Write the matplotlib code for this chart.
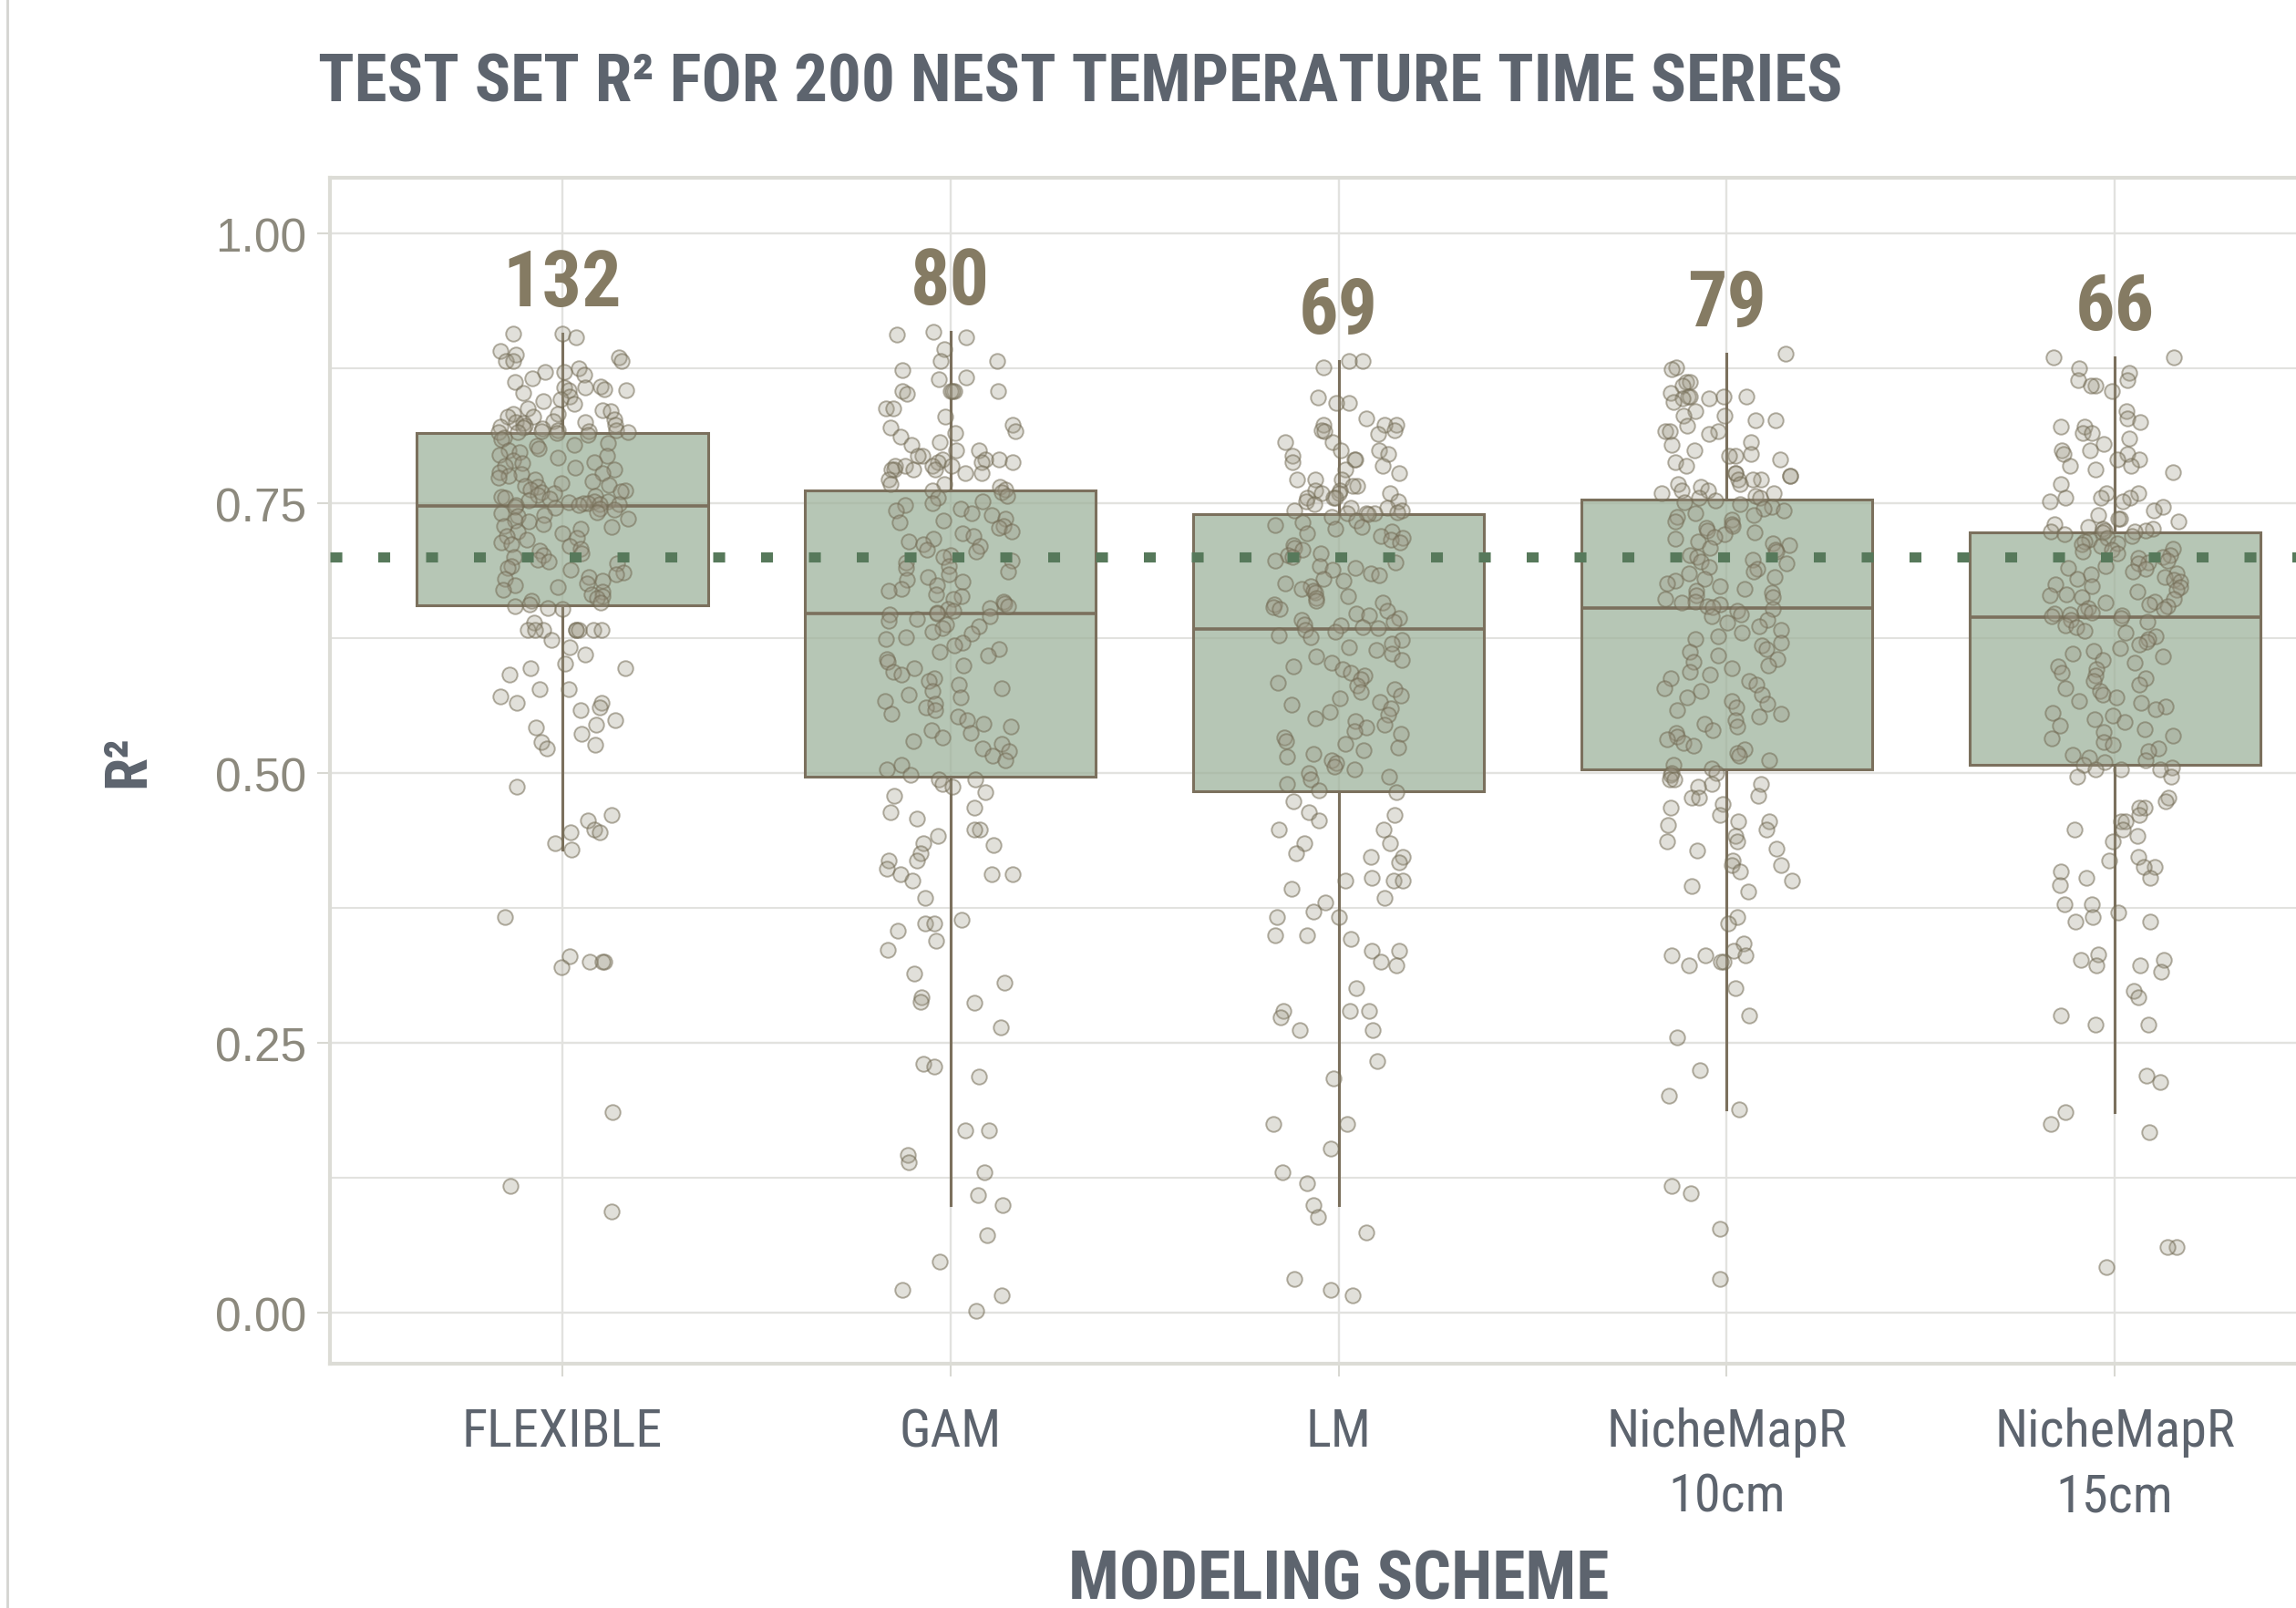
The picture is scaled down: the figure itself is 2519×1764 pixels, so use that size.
import numpy as np
import matplotlib
matplotlib.use("Agg")
import matplotlib.pyplot as plt
from matplotlib import font_manager
from matplotlib.lines import Line2D

# ---- data ----
schemes = ["FLEXIBLE", "GAM", "LM", "NicheMapR\n10cm", "NicheMapR\n15cm"]
n_best = [132, 80, 69, 79, 66]
threshold = 0.70

flexible = [
    0.907, 0.907, 0.904, 0.891, 0.888, 0.885, 0.882, 0.882, 0.882, 0.875,
    0.872, 0.872, 0.869, 0.866, 0.862, 0.858, 0.857, 0.857, 0.856, 0.855,
    0.855, 0.852, 0.849, 0.846, 0.845, 0.842, 0.838, 0.836, 0.835, 0.833,
    0.833, 0.830, 0.830, 0.828, 0.826, 0.825, 0.825, 0.824, 0.823, 0.822,
    0.821, 0.820, 0.819, 0.818, 0.818, 0.817, 0.817, 0.816, 0.816, 0.816,
    0.815, 0.813, 0.811, 0.809, 0.806, 0.804, 0.803, 0.801, 0.799, 0.797,
    0.795, 0.794, 0.792, 0.790, 0.788, 0.787, 0.785, 0.783, 0.781, 0.779,
    0.778, 0.777, 0.775, 0.774, 0.772, 0.770, 0.769, 0.767, 0.766, 0.765,
    0.763, 0.762, 0.761, 0.760, 0.759, 0.758, 0.757, 0.756, 0.755, 0.754,
    0.753, 0.752, 0.752, 0.751, 0.750, 0.750, 0.749, 0.749, 0.748, 0.748,
    0.747, 0.746, 0.745, 0.744, 0.742, 0.741, 0.739, 0.738, 0.736, 0.734,
    0.733, 0.731, 0.729, 0.728, 0.726, 0.724, 0.722, 0.720, 0.718, 0.716,
    0.714, 0.712, 0.710, 0.708, 0.706, 0.704, 0.702, 0.700, 0.698, 0.696,
    0.694, 0.692, 0.690, 0.688, 0.686, 0.684, 0.682, 0.680, 0.678, 0.676,
    0.674, 0.672, 0.670, 0.668, 0.666, 0.664, 0.662, 0.660, 0.658, 0.656,
    0.655, 0.653, 0.652, 0.639, 0.633, 0.633, 0.633, 0.633, 0.633, 0.633,
    0.633, 0.633, 0.623, 0.617, 0.610, 0.601, 0.597, 0.597, 0.591, 0.578,
    0.578, 0.571, 0.565, 0.565, 0.561, 0.558, 0.549, 0.545, 0.542, 0.536,
    0.529, 0.526, 0.523, 0.487, 0.461, 0.456, 0.448, 0.445, 0.445, 0.435,
    0.429, 0.367, 0.330, 0.325, 0.325, 0.325, 0.320, 0.186, 0.117, 0.094,
]

gam = [
    0.909, 0.906, 0.904, 0.893, 0.882, 0.882, 0.873, 0.867, 0.865, 0.854,
    0.854, 0.854, 0.854, 0.854, 0.851, 0.838, 0.838, 0.830, 0.823, 0.820,
    0.817, 0.815, 0.812, 0.807, 0.804, 0.799, 0.799, 0.794, 0.794, 0.791,
    0.791, 0.791, 0.788, 0.788, 0.788, 0.785, 0.785, 0.785, 0.785, 0.781,
    0.781, 0.781, 0.781, 0.778, 0.778, 0.772, 0.768, 0.768, 0.765, 0.763,
    0.762, 0.760, 0.757, 0.755, 0.752, 0.750, 0.748, 0.745, 0.743, 0.741,
    0.739, 0.736, 0.734, 0.732, 0.729, 0.727, 0.724, 0.722, 0.720, 0.717,
    0.715, 0.712, 0.710, 0.707, 0.705, 0.702, 0.700, 0.697, 0.695, 0.692,
    0.690, 0.687, 0.684, 0.682, 0.679, 0.677, 0.674, 0.671, 0.669, 0.666,
    0.664, 0.661, 0.659, 0.657, 0.655, 0.653, 0.652, 0.650, 0.649, 0.648,
    0.647, 0.645, 0.643, 0.641, 0.638, 0.636, 0.634, 0.631, 0.629, 0.626,
    0.624, 0.621, 0.618, 0.615, 0.612, 0.609, 0.606, 0.603, 0.600, 0.597,
    0.594, 0.591, 0.588, 0.585, 0.582, 0.579, 0.576, 0.573, 0.570, 0.567,
    0.564, 0.561, 0.558, 0.555, 0.552, 0.549, 0.546, 0.543, 0.540, 0.537,
    0.533, 0.530, 0.527, 0.523, 0.520, 0.516, 0.512, 0.508, 0.503, 0.498,
    0.494, 0.494, 0.490, 0.487, 0.482, 0.479, 0.468, 0.464, 0.458, 0.448,
    0.448, 0.442, 0.435, 0.433, 0.426, 0.419, 0.419, 0.411, 0.406, 0.406,
    0.406, 0.400, 0.384, 0.364, 0.361, 0.361, 0.354, 0.345, 0.336, 0.314,
    0.306, 0.292, 0.288, 0.287, 0.264, 0.231, 0.228, 0.219, 0.169, 0.169,
    0.146, 0.139, 0.130, 0.109, 0.100, 0.072, 0.047, 0.021, 0.016, 0.002,
]

lm = [
    0.882, 0.882, 0.876, 0.848, 0.843, 0.843, 0.829, 0.823, 0.823, 0.823,
    0.818, 0.818, 0.817, 0.814, 0.807, 0.807, 0.799, 0.799, 0.796, 0.794,
    0.791, 0.791, 0.788, 0.785, 0.781, 0.778, 0.772, 0.772, 0.772, 0.766,
    0.766, 0.762, 0.762, 0.759, 0.759, 0.759, 0.755, 0.755, 0.755, 0.752,
    0.752, 0.749, 0.746, 0.746, 0.743, 0.743, 0.742, 0.741, 0.741, 0.741,
    0.740, 0.737, 0.734, 0.732, 0.730, 0.728, 0.726, 0.724, 0.722, 0.720,
    0.718, 0.716, 0.714, 0.711, 0.709, 0.707, 0.704, 0.702, 0.700, 0.697,
    0.695, 0.692, 0.690, 0.688, 0.685, 0.683, 0.680, 0.678, 0.676, 0.673,
    0.671, 0.669, 0.667, 0.664, 0.662, 0.660, 0.658, 0.656, 0.654, 0.652,
    0.650, 0.648, 0.646, 0.644, 0.642, 0.640, 0.638, 0.637, 0.635, 0.634,
    0.633, 0.631, 0.628, 0.626, 0.623, 0.620, 0.617, 0.614, 0.611, 0.608,
    0.605, 0.602, 0.599, 0.596, 0.593, 0.590, 0.587, 0.584, 0.581, 0.578,
    0.575, 0.572, 0.569, 0.566, 0.563, 0.560, 0.557, 0.554, 0.551, 0.548,
    0.545, 0.542, 0.539, 0.536, 0.533, 0.530, 0.527, 0.524, 0.521, 0.518,
    0.515, 0.512, 0.509, 0.506, 0.503, 0.500, 0.497, 0.494, 0.490, 0.484,
    0.482, 0.474, 0.464, 0.461, 0.456, 0.448, 0.448, 0.435, 0.435, 0.426,
    0.422, 0.422, 0.417, 0.403, 0.400, 0.400, 0.400, 0.393, 0.384, 0.380,
    0.372, 0.367, 0.367, 0.350, 0.350, 0.346, 0.335, 0.335, 0.325, 0.322,
    0.301, 0.280, 0.280, 0.280, 0.274, 0.262, 0.262, 0.233, 0.217, 0.175,
    0.175, 0.152, 0.130, 0.120, 0.100, 0.089, 0.074, 0.031, 0.021, 0.016,
]

nichemap_10 = [
    0.889, 0.876, 0.874, 0.862, 0.862, 0.859, 0.852, 0.849, 0.849, 0.849,
    0.849, 0.847, 0.847, 0.844, 0.835, 0.831, 0.831, 0.827, 0.827, 0.822,
    0.817, 0.817, 0.817, 0.814, 0.807, 0.804, 0.799, 0.796, 0.794, 0.794,
    0.791, 0.788, 0.785, 0.778, 0.778, 0.775, 0.775, 0.772, 0.772, 0.772,
    0.768, 0.768, 0.765, 0.762, 0.762, 0.759, 0.759, 0.757, 0.755, 0.755,
    0.753, 0.751, 0.749, 0.747, 0.745, 0.743, 0.741, 0.739, 0.737, 0.735,
    0.733, 0.731, 0.729, 0.727, 0.725, 0.723, 0.721, 0.719, 0.717, 0.715,
    0.713, 0.711, 0.709, 0.707, 0.705, 0.702, 0.700, 0.698, 0.696, 0.694,
    0.691, 0.689, 0.687, 0.685, 0.682, 0.680, 0.678, 0.676, 0.673, 0.671,
    0.669, 0.667, 0.665, 0.663, 0.661, 0.659, 0.658, 0.656, 0.655, 0.654,
    0.652, 0.650, 0.647, 0.645, 0.642, 0.639, 0.636, 0.633, 0.630, 0.627,
    0.624, 0.621, 0.618, 0.615, 0.612, 0.609, 0.606, 0.603, 0.600, 0.597,
    0.594, 0.591, 0.588, 0.585, 0.582, 0.579, 0.576, 0.573, 0.570, 0.567,
    0.564, 0.561, 0.558, 0.555, 0.552, 0.549, 0.546, 0.543, 0.540, 0.537,
    0.534, 0.531, 0.528, 0.525, 0.522, 0.519, 0.516, 0.512, 0.508, 0.504,
    0.500, 0.500, 0.498, 0.494, 0.494, 0.490, 0.490, 0.487, 0.479, 0.477,
    0.477, 0.471, 0.468, 0.461, 0.455, 0.455, 0.452, 0.448, 0.442, 0.437,
    0.437, 0.430, 0.428, 0.419, 0.415, 0.415, 0.409, 0.400, 0.395, 0.390,
    0.367, 0.361, 0.342, 0.335, 0.331, 0.331, 0.331, 0.325, 0.325, 0.322,
    0.301, 0.275, 0.255, 0.225, 0.201, 0.188, 0.117, 0.111, 0.078, 0.031,
]

nichemap_15 = [
    0.885, 0.885, 0.875, 0.871, 0.864, 0.864, 0.859, 0.859, 0.854, 0.835,
    0.829, 0.825, 0.821, 0.821, 0.815, 0.815, 0.810, 0.805, 0.799, 0.799,
    0.796, 0.796, 0.791, 0.791, 0.785, 0.785, 0.781, 0.779, 0.768, 0.759,
    0.759, 0.755, 0.755, 0.755, 0.752, 0.752, 0.747, 0.743, 0.739, 0.736,
    0.736, 0.733, 0.731, 0.728, 0.726, 0.726, 0.725, 0.725, 0.724, 0.724,
    0.723, 0.721, 0.720, 0.718, 0.716, 0.715, 0.713, 0.712, 0.710, 0.708,
    0.707, 0.705, 0.704, 0.702, 0.700, 0.699, 0.697, 0.695, 0.694, 0.692,
    0.690, 0.689, 0.687, 0.685, 0.684, 0.682, 0.680, 0.679, 0.677, 0.675,
    0.673, 0.672, 0.670, 0.668, 0.666, 0.665, 0.663, 0.661, 0.659, 0.658,
    0.656, 0.655, 0.653, 0.652, 0.650, 0.649, 0.648, 0.647, 0.646, 0.645,
    0.644, 0.642, 0.640, 0.637, 0.635, 0.632, 0.630, 0.627, 0.624, 0.622,
    0.619, 0.616, 0.613, 0.611, 0.608, 0.605, 0.602, 0.599, 0.596, 0.593,
    0.590, 0.588, 0.585, 0.582, 0.579, 0.576, 0.573, 0.570, 0.567, 0.565,
    0.562, 0.559, 0.556, 0.553, 0.550, 0.547, 0.544, 0.541, 0.538, 0.535,
    0.532, 0.529, 0.526, 0.523, 0.520, 0.517, 0.514, 0.512, 0.510, 0.508,
    0.505, 0.503, 0.503, 0.503, 0.497, 0.497, 0.477, 0.474, 0.468, 0.468,
    0.461, 0.455, 0.455, 0.448, 0.448, 0.442, 0.437, 0.422, 0.419, 0.413,
    0.413, 0.409, 0.403, 0.403, 0.396, 0.378, 0.378, 0.371, 0.367, 0.362,
    0.362, 0.332, 0.327, 0.327, 0.322, 0.322, 0.316, 0.298, 0.292, 0.275,
    0.267, 0.267, 0.220, 0.214, 0.186, 0.175, 0.167, 0.061, 0.061, 0.042,
]

series = [flexible, gam, lm, nichemap_10, nichemap_15]

# ---- fonts ----
installed = {f.name for f in font_manager.fontManager.ttflist}


def pick(*names):
    for n in names:
        if n in installed:
            return n
    return "DejaVu Sans"


narrow = pick("Liberation Sans Narrow", "Roboto Condensed", "DejaVu Sans")
plain = pick("Liberation Sans", "Arial", "DejaVu Sans")

# dash lengths given in points, not scaled by line width
plt.rcParams["lines.scale_dashes"] = False

slate = "#5d646e"
olive = "#857b63"
box_edge = "#7b705d"
green = "#57795b"
grid_c = "#e2e2df"

W, H = 2519, 1765
fig = plt.figure(figsize=(W / 100, H / 100), dpi=100)

# panel in pixels (it runs past the right edge, as in the cropped original)
left, right, top, bottom = 361.5, 2575.7, 196, 1497
ax = fig.add_axes([left / W, 1 - bottom / H, (right - left) / W, (bottom - top) / H])

pos = np.arange(1, len(schemes) + 1)

# jittered points (geom_jitter style)
rng = np.random.default_rng(11)
for p, vals in zip(pos, series):
    xs = p + rng.uniform(-0.17, 0.17, len(vals))
    ax.scatter(xs, vals, s=140, facecolor=(0.62, 0.60, 0.53, 0.30),
               edgecolor=(0.45, 0.42, 0.33, 0.55), linewidth=1.4, zorder=3)

bp = ax.boxplot(series, positions=pos, widths=0.75, patch_artist=True,
                showfliers=False, showcaps=False, whis=1.5,
                boxprops=dict(facecolor=(0.62, 0.70, 0.61, 0.75), edgecolor=box_edge, linewidth=2.2),
                whiskerprops=dict(color=box_edge, linewidth=2.2),
                medianprops=dict(color=box_edge, linewidth=2.6),
                zorder=2)

# dotted reference line: ~13 px squares every ~52 px
ax.axhline(threshold, color=green, linewidth=8, linestyle=(0, (9.4, 28.4)), zorder=5)

for p, vals, n in zip(pos, series, n_best):
    ax.text(p, max(vals) + 0.026, str(n), ha="center", va="baseline",
            fontsize=62, fontweight="bold", family=narrow, color=olive, zorder=6)

ax.set_xlim(0.4, 5.6)
ax.set_ylim(-0.0473, 1.0516)
ax.set_yticks([0, 0.25, 0.5, 0.75, 1.0])
ax.set_yticklabels(["0.00", "0.25", "0.50", "0.75", "1.00"])
ax.set_yticks([0.125, 0.375, 0.625, 0.875], minor=True)
ax.set_xticks(pos)
ax.set_xticklabels(schemes, linespacing=1.38)

ax.grid(True, which="major", color=grid_c, linewidth=1.7, zorder=0)
ax.grid(True, which="minor", axis="y", color=grid_c, linewidth=1.5, zorder=0)
ax.set_axisbelow(True)

for s in ax.spines.values():
    s.set_color("#dcdcd6")
    s.set_linewidth(3)

ax.tick_params(axis="y", which="major", length=10, width=1.5, color="#d8d8d2", pad=8,
               labelsize=37, labelcolor="#8c897d")
ax.tick_params(axis="y", which="minor", length=0)
ax.tick_params(axis="x", length=10, width=1.5, color="#d8d8d2", pad=24,
               labelsize=42, labelcolor=slate)
for t in ax.get_yticklabels():
    t.set_family(plain)
for t in ax.get_xticklabels():
    t.set_family(narrow)

fig.text(349 / W, 1 - 112 / H, "TEST SET R² FOR 200 NEST TEMPERATURE TIME SERIES",
         ha="left", va="baseline", fontsize=52.7, fontweight="bold", family=narrow, color=slate)
fig.text(((left + right) / 2) / W, 1 - 1755 / H, "MODELING SCHEME",
         ha="center", va="baseline", fontsize=53, fontweight="bold", family=narrow, color=slate)
fig.text(141 / W, 1 - 835 / H, "R²", rotation=90, ha="center", va="center",
         fontsize=47, fontweight="bold", family=narrow, color=slate)

# thin frame line on the left edge of the original image
fig.add_artist(Line2D([8 / W, 8 / W], [0, 1], transform=fig.transFigure,
                      color="#d4d4d0", linewidth=2))

fig.savefig("out.png", dpi=100)
